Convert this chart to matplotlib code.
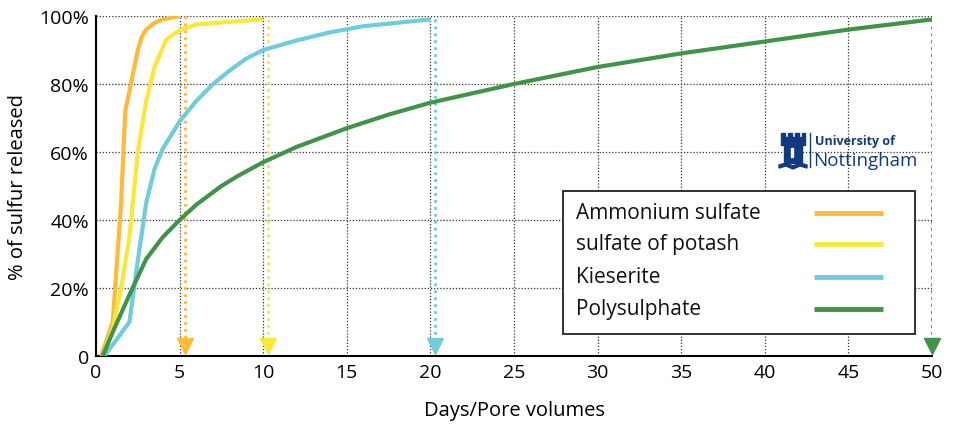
import matplotlib
matplotlib.use("Agg")
import matplotlib.pyplot as plt
from matplotlib.ticker import FuncFormatter
from matplotlib.patches import Rectangle, Polygon

plt.rcParams['font.family'] = ['Open Sans', 'DejaVu Sans']

# ===== data =====
amm_x = [0.3, 1.0, 1.5, 1.75, 2.0, 2.5, 2.75, 3.0, 3.5, 4.0, 5.0]
amm_y = [0, 10, 45, 72, 78, 90, 94, 96, 98, 99, 100]

sop_x = [0.4, 1.0, 1.5, 2.0, 2.5, 3.0, 3.5, 4.2, 4.6, 5.1, 6.0, 8.0, 10.0]
sop_y = [0, 8, 20, 35, 60, 75, 85, 93, 94.5, 96, 97.5, 98.3, 99]

kie_x = [0.5, 2.0, 2.5, 3.0, 3.5, 4.0, 5.0, 6.0, 7.0, 8.0, 9.0, 10.0, 12.0, 14.0, 16.0, 18.0, 20.0]
kie_y = [0, 10, 28, 45, 55, 61, 69, 75, 80, 84, 87.5, 90, 92.8, 95.2, 97, 98, 99]

poly_x = [0.4, 1.0, 2.0, 3.0, 4.0, 5.0, 6.0, 7.5, 8.5, 10, 12, 15, 17.5, 20, 25, 30, 35, 40, 45, 50]
poly_y = [0, 7, 18, 28.5, 35, 40, 44.5, 50, 53, 57, 61.5, 67, 71, 74.5, 80, 85, 89, 92.5, 96, 99]

# where each series ends (dotted arrow down to x axis)
end_x = [5.3, 10.3, 20.3, 50]
end_y = [100, 99, 99, 99]

labels = ["Ammonium sulfate", "sulfate of potash", "Kieserite", "Polysulphate"]
colors = ["#FFBA38", "#F9E936", "#6FCCDD", "#3F9447"]

x_ticks = list(range(0, 55, 5))
y_ticks = [0, 20, 40, 60, 80, 100]

W, H = 960, 427


def fx(px):
    return px / W


def fy(py):
    return 1 - py / H


# ===== figure =====
fig = plt.figure(figsize=(9.6, 4.27), dpi=100)
ax = fig.add_axes([fx(96), fy(357), fx(932) - fx(96), fy(17) - fy(357)])

series = [(amm_x, amm_y), (sop_x, sop_y), (kie_x, kie_y), (poly_x, poly_y)]
for (xs, ys), c in zip(series, colors):
    ax.plot(xs, ys, color=c, lw=3, solid_capstyle='butt', solid_joinstyle='round', zorder=3)

for ex, ey, c in zip(end_x, end_y, colors):
    ax.plot([ex, ex], [ey, 4], color=c, lw=2, ls=(0, (1, 1.5)), zorder=2)
    ax.plot(ex, 3.0, marker='v', color=c, markersize=11, zorder=4, clip_on=False)

ax.set_xlim(0, 50)
ax.set_ylim(0, 100)
ax.set_xticks(x_ticks)
ax.set_yticks(y_ticks)
ax.yaxis.set_major_formatter(FuncFormatter(lambda v, p: "0" if v == 0 else f"{v:.0f}%"))
ax.tick_params(labelsize=14, length=0, pad=5)
ax.grid(True, color='#333333', ls=(0, (1, 1.5)), lw=0.9)
ax.set_axisbelow(True)
for s in ['top', 'right']:
    ax.spines[s].set_visible(False)
ax.spines['left'].set_linewidth(1.5)
ax.spines['bottom'].set_linewidth(1.5)

ax.set_xlabel("Days/Pore volumes", fontsize=14.5, labelpad=14)
ax.set_ylabel("% of sulfur released", fontsize=14.5, labelpad=8)

# ===== legend (text left, line right) =====
fig.patches.append(Rectangle((fx(563), fy(335)), fx(915) - fx(563), fy(192) - fy(335),
                             transform=fig.transFigure, facecolor='white',
                             edgecolor='#222222', lw=1.3, zorder=5))
row_y = [214, 245, 278, 310]
for lab, c, ry in zip(labels, colors, row_y):
    fig.text(fx(576), fy(ry), lab, fontsize=15, color='#111111',
             va='center', ha='left', zorder=6)
    fig.add_artist(plt.Line2D([fx(814), fx(883)], [fy(ry), fy(ry)],
                              transform=fig.transFigure, color=c, lw=3.5,
                              solid_capstyle='butt', zorder=6))

# ===== logo =====
navy = "#123A80"
lax = fig.add_axes([fx(778), fy(172), fx(808) - fx(778), fy(130) - fy(172)])
lax.set_xlim(0, 30)
lax.set_ylim(0, 42)
lax.axis('off')
tower = [(6, 8), (6, 26), (3, 26), (3, 38), (7, 38), (7, 34), (10, 34), (10, 38),
         (14, 38), (14, 34), (17, 34), (17, 38), (21, 38), (21, 34), (24, 34), (24, 38),
         (27, 38), (27, 26), (24, 26), (24, 8)]
lax.add_patch(Polygon(tower, closed=True, color=navy))
lax.add_patch(Rectangle((12.5, 14), 2, 9, color='white'))
lax.add_patch(Polygon([(1, 6), (8, 8), (15, 5), (22, 8), (29, 6), (29, 3), (22, 5),
                       (15, 2), (8, 5), (1, 3)], closed=True, color=navy))
fig.add_artist(plt.Line2D([fx(810), fx(810)], [fy(168), fy(134)],
                          transform=fig.transFigure, color=navy, lw=1))
fig.text(fx(815), fy(142), "University of", fontsize=9, color=navy,
         fontweight='bold', va='center', ha='left')
fig.text(fx(813), fy(161), "Nottingham", fontsize=13.5, color=navy,
         va='center', ha='left')

fig.savefig("out.png", dpi=100)
